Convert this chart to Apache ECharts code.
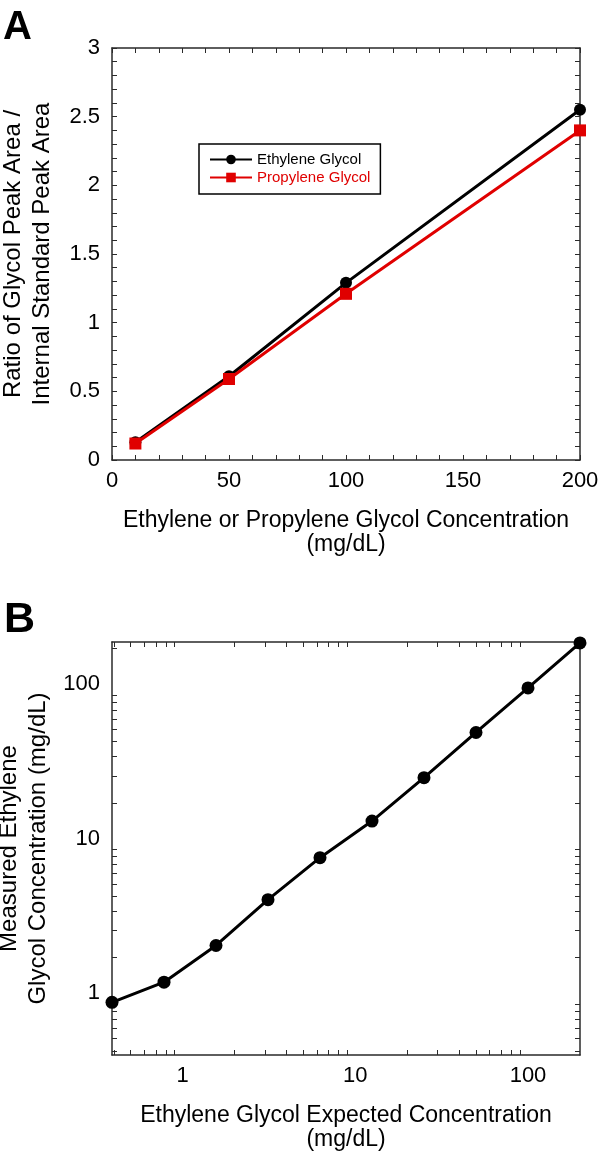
<!DOCTYPE html>
<html>
<head>
<meta charset="utf-8">
<script src="https://cdn.jsdelivr.net/npm/echarts@6/dist/echarts.min.js"></script>
<style>
  html, body { margin: 0; padding: 0; background: #fff; }
  #chart { width: 600px; height: 1157px; }
</style>
</head>
<body>
<div id="chart"></div>
<script>
// panel A: calibration ratios
const concA = [10, 50, 100, 200];
const ethyleneRatio = [0.13, 0.61, 1.29, 2.55];
const propyleneRatio = [0.12, 0.59, 1.21, 2.40];

// panel B: measured vs expected (log-log)
const expectedB = [0.390625, 0.78125, 1.5625, 3.125, 6.25, 12.5, 25, 50, 100, 200];
const measuredB = [1.03, 1.39, 2.40, 4.75, 8.87, 15.3, 29.2, 57.2, 111, 217];

// labels and tick marks for the log axes
const logLabels = [1, 10, 100];
const logTicksX = [0.4, 0.5, 0.6, 0.7, 0.8, 0.9, 2, 3, 4, 5, 6, 7, 8, 9,
  20, 30, 40, 50, 60, 70, 80, 90];
const logTicksY = [0.5, 0.6, 0.7, 0.8, 0.9, 1, 2, 3, 4, 5, 6, 7, 8, 9,
  10, 20, 30, 40, 50, 60, 70, 80, 90, 100, 200];

const X_MIN_B = 0.390625, X_MAX_B = 200;
const Y_MIN_B = 0.47, Y_MAX_B = 220;

const FONT = '"Liberation Sans", Arial, sans-serif';
const AXIS_COLOR = '#2a2a2a';
const RED = '#e00000';

const axisLine = {onZero: false, lineStyle: {color: AXIS_COLOR, width: 1.5}};
const tickStyle = {inside: true, length: 5, lineStyle: {color: AXIS_COLOR, width: 1}};
const minorTick = {show: true, splitNumber: 5, length: 5, lineStyle: {color: AXIS_COLOR, width: 1}};
const labelStyle = {color: '#000', fontSize: 22, fontFamily: FONT};
const xNameStyle = {color: '#000', fontSize: 23, fontFamily: FONT, lineHeight: 24};
const yNameStyle = {color: '#000', fontSize: 24, fontFamily: FONT, lineHeight: 29};

// value axis in decades, only used to place tick marks on the log axes
const tickOverlay = (gridIndex, position, min, max, ticks) => ({
  gridIndex: gridIndex, type: 'value', position: position,
  min: Math.log10(min), max: Math.log10(max),
  axisLine: {show: false, onZero: false},
  axisTick: Object.assign({customValues: ticks.map(v => Math.log10(v))}, tickStyle),
  axisLabel: {show: false}, splitLine: {show: false}
});

const chart = echarts.init(document.getElementById('chart'));

chart.setOption({
  animation: false,
  backgroundColor: '#fff',
  title: [
    {text: 'A', left: -2, top: 3, textStyle: {fontSize: 40, fontWeight: 'bold', fontFamily: FONT, color: '#000'}},
    {text: 'B', left: -1, top: 594, textStyle: {fontSize: 43, fontWeight: 'bold', fontFamily: FONT, color: '#000'}}
  ],
  legend: {
    data: ['Ethylene Glycol', 'Propylene Glycol'],
    orient: 'vertical',
    left: 199,
    top: 144,
    padding: [8, 10, 9, 10],
    itemGap: 3,
    itemWidth: 42,
    itemHeight: 12,
    borderColor: '#000',
    borderWidth: 1.5,
    borderRadius: 0,
    textStyle: {
      fontSize: 15, fontFamily: FONT, color: '#000',
      rich: {r: {fontSize: 15, fontFamily: FONT, color: RED}}
    },
    formatter: name => name === 'Propylene Glycol' ? '{r|' + name + '}' : name,
    selectedMode: false
  },
  grid: [
    {left: 112, top: 48, width: 468, height: 412, outerBoundsMode: 'none'},
    {left: 112, top: 642, width: 468, height: 413, outerBoundsMode: 'none'}
  ],
  xAxis: [
    {
      gridIndex: 0, type: 'value', min: 0, max: 200, interval: 50,
      name: 'Ethylene or Propylene Glycol Concentration\n(mg/dL)',
      nameLocation: 'middle', nameGap: 49, nameTextStyle: xNameStyle,
      axisLine: axisLine, axisTick: tickStyle, minorTick: minorTick,
      axisLabel: Object.assign({margin: 10}, labelStyle),
      splitLine: {show: false}
    },
    {
      gridIndex: 0, type: 'value', position: 'top', min: 0, max: 200, interval: 50,
      axisLine: axisLine, axisTick: tickStyle, minorTick: minorTick,
      axisLabel: {show: false}, splitLine: {show: false}
    },
    {
      gridIndex: 1, type: 'log', logBase: 10, min: X_MIN_B, max: X_MAX_B,
      name: 'Ethylene Glycol Expected Concentration\n(mg/dL)',
      nameLocation: 'middle', nameGap: 49, nameTextStyle: xNameStyle,
      axisLine: axisLine, axisTick: {show: false},
      axisLabel: Object.assign({margin: 10, customValues: logLabels}, labelStyle),
      splitLine: {show: false}
    },
    {
      gridIndex: 1, type: 'log', logBase: 10, position: 'top', min: X_MIN_B, max: X_MAX_B,
      axisLine: axisLine, axisTick: {show: false},
      axisLabel: {show: false}, splitLine: {show: false}
    },
    tickOverlay(1, 'bottom', X_MIN_B, X_MAX_B, logTicksX),
    tickOverlay(1, 'top', X_MIN_B, X_MAX_B, logTicksX)
  ],
  yAxis: [
    {
      gridIndex: 0, type: 'value', min: 0, max: 3, interval: 0.5,
      name: 'Ratio of Glycol Peak Area /\nInternal Standard Peak Area',
      nameLocation: 'middle', nameGap: 55, nameRotate: 90, nameTextStyle: yNameStyle,
      axisLine: axisLine, axisTick: tickStyle, minorTick: minorTick,
      axisLabel: Object.assign({margin: 12}, labelStyle),
      splitLine: {show: false}
    },
    {
      gridIndex: 0, type: 'value', position: 'right', min: 0, max: 3, interval: 0.5,
      axisLine: axisLine, axisTick: tickStyle, minorTick: minorTick,
      axisLabel: {show: false}, splitLine: {show: false}
    },
    {
      gridIndex: 1, type: 'log', logBase: 10, min: Y_MIN_B, max: Y_MAX_B,
      name: 'Measured Ethylene\nGlycol Concentration (mg/dL)',
      nameLocation: 'middle', nameGap: 55, nameRotate: 90, nameTextStyle: yNameStyle,
      axisLine: axisLine, axisTick: {show: false},
      axisLabel: Object.assign({margin: 12, verticalAlign: 'bottom', customValues: logLabels}, labelStyle),
      splitLine: {show: false}
    },
    {
      gridIndex: 1, type: 'log', logBase: 10, position: 'right', min: Y_MIN_B, max: Y_MAX_B,
      axisLine: axisLine, axisTick: {show: false},
      axisLabel: {show: false}, splitLine: {show: false}
    },
    tickOverlay(1, 'left', Y_MIN_B, Y_MAX_B, logTicksY),
    tickOverlay(1, 'right', Y_MIN_B, Y_MAX_B, logTicksY)
  ],
  series: [
    {
      name: 'Ethylene Glycol', type: 'line', xAxisIndex: 0, yAxisIndex: 0,
      data: concA.map((x, i) => [x, ethyleneRatio[i]]),
      symbol: 'circle', symbolSize: 12, color: '#000',
      lineStyle: {color: '#000', width: 3}, itemStyle: {color: '#000'}
    },
    {
      name: 'Propylene Glycol', type: 'line', xAxisIndex: 0, yAxisIndex: 0,
      data: concA.map((x, i) => [x, propyleneRatio[i]]),
      symbol: 'rect', symbolSize: 12, color: RED,
      lineStyle: {color: RED, width: 3}, itemStyle: {color: RED}
    },
    {
      name: 'Measured', type: 'line', xAxisIndex: 2, yAxisIndex: 2,
      data: expectedB.map((x, i) => [x, measuredB[i]]),
      symbol: 'circle', symbolSize: 13, color: '#000',
      lineStyle: {color: '#000', width: 3}, itemStyle: {color: '#000'}
    }
  ]
});
</script>
</body>
</html>
